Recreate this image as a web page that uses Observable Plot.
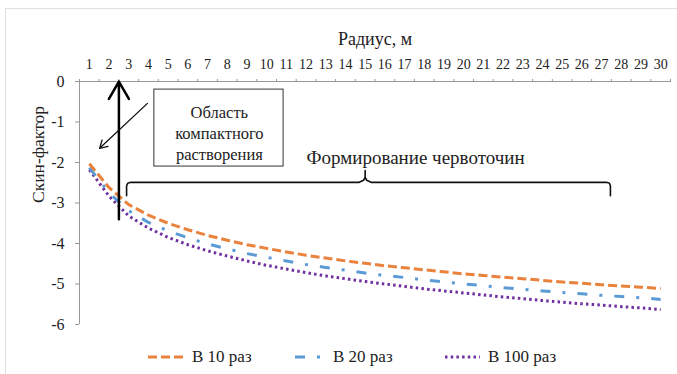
<!DOCTYPE html>
<html><head><meta charset="utf-8">
<script src="https://cdn.jsdelivr.net/npm/d3@7"></script>
<script src="https://cdn.jsdelivr.net/npm/@observablehq/plot@0.6"></script>
<style>
body{margin:0;background:#fff;font-family:'Liberation Serif','Times New Roman',serif;}
#wrap{position:relative;width:677px;height:374px;overflow:hidden;background:#fff;}
#border{position:absolute;left:5px;top:8px;width:700px;height:400px;border:1px solid #e0e0e0;}
#chart{position:absolute;left:0;top:0;}
#chart svg text{font-family:'Liberation Serif','Times New Roman',serif;}
.leg{position:absolute;top:347px;height:20px;display:flex;align-items:center;font-size:17px;color:#222;white-space:nowrap;}
.leg svg{margin-right:8px;}
</style></head><body>
<div id="wrap"><div id="border"></div><div id="chart"></div><div id="legend"></div></div>
<script>
// Categories (radius, m)
const radius = [1,2,3,4,5,6,7,8,9,10,11,12,13,14,15,16,17,18,19,20,21,22,23,24,25,26,27,28,29,30];
// Skin factor series
const s10  = [-2.03,-2.62,-3.04,-3.30,-3.50,-3.66,-3.80,-3.92,-4.03,-4.12,-4.21,-4.29,-4.36,-4.43,-4.49,-4.55,-4.60,-4.65,-4.70,-4.75,-4.79,-4.83,-4.87,-4.91,-4.95,-4.98,-5.02,-5.05,-5.08,-5.11];
const s20  = [-2.13,-2.75,-3.19,-3.48,-3.69,-3.86,-4.01,-4.13,-4.25,-4.34,-4.43,-4.52,-4.59,-4.66,-4.73,-4.79,-4.84,-4.90,-4.95,-5.00,-5.04,-5.09,-5.13,-5.17,-5.21,-5.24,-5.28,-5.31,-5.34,-5.38];
const s100 = [-2.18,-2.83,-3.32,-3.62,-3.85,-4.03,-4.18,-4.31,-4.43,-4.54,-4.63,-4.72,-4.80,-4.87,-4.94,-5.00,-5.06,-5.12,-5.17,-5.22,-5.27,-5.32,-5.36,-5.41,-5.45,-5.49,-5.52,-5.56,-5.59,-5.63];
const seriesNames = ["В 10 раз","В 20 раз","В 100 раз"];
const yTicks = [0,-1,-2,-3,-4,-5,-6];
const xTitle = "Радиус, м";
const yTitle = "Скин-фактор";
// Annotations (data coordinates)
const arrowV = [{x1:2.5,y1:-3.4,x2:2.5,y2:0}];
const arrowD = [{x1:3.95,y1:-0.54,x2:1.52,y2:-1.65}];
const boxRect = [{x1:4.3,x2:10.86,y1:-0.2,y2:-2.1}];
const boxText = [{x:7.6,y:-1.25,t:"Область\nкомпактного\nрастворения"}];
const brace = [[2.89,-2.82],[2.89,-2.58],[2.95,-2.51],[3.1,-2.49],[14.7,-2.49],[14.92,-2.44],[15,-2.36],[15,-2.2],[15,-2.36],[15.08,-2.44],[15.3,-2.49],[27.25,-2.49],[27.4,-2.51],[27.45,-2.58],[27.45,-2.82]];
const braceText = [{x:17.56,y:-1.88,t:"Формирование червоточин"}];

const colors = ["#E8823C","#5B9BD5","#7030A0"];
const dashes = ["9,4","10,12,3,12","2.5,3.2"];
const serif = "Liberation Serif, Times New Roman, serif";

const rows = (vals) => radius.map((r,i)=>({r, s: vals[i]}));
const halfTicks = d3.range(0.5, 30.6, 1);

const chart = Plot.plot({
  width: 677, height: 340,
  marginLeft: 79, marginRight: 7, marginTop: 81, marginBottom: 16,
  style: {fontFamily: serif, fontSize: "14px", color: "#222", background: "transparent"},
  x: {domain: [0.5, 30.5]},
  y: {domain: [-6, 0]},
  marks: [
    Plot.ruleY([0], {stroke: "#999"}),
    Plot.ruleX([0.5], {y1: 0, y2: -6, stroke: "#999"}),
    Plot.axisX({anchor: "top", ticks: radius, tickSize: 0, tickPadding: 13, label: null, fontSize: 14}),
    Plot.axisX({anchor: "top", ticks: halfTicks, tickSize: 3, tickFormat: () => "", label: null, stroke: "#999"}),
    Plot.axisY({ticks: yTicks, tickFormat: d => String(d), tickSize: 4, tickPadding: 11, fontSize: 16, label: null, stroke: "#999"}),
    Plot.text([yTitle], {frameAnchor: "left", dx: -41.5, rotate: -90, fontSize: 17.5, fill: "#222"}),
    Plot.text([xTitle], {frameAnchor: "top", dy: -49, fontSize: 18, fill: "#222"}),
    Plot.line(rows(s100), {x: "r", y: "s", stroke: colors[2], strokeWidth: 3, strokeDasharray: dashes[2], strokeLinecap: "butt"}),
    Plot.line(rows(s20), {x: "r", y: "s", stroke: colors[1], strokeWidth: 3, strokeDasharray: dashes[1], strokeLinecap: "butt"}),
    Plot.line(rows(s10), {x: "r", y: "s", stroke: colors[0], strokeWidth: 3, strokeDasharray: dashes[0], strokeLinecap: "butt"}),
    Plot.arrow(arrowV, {x1: "x1", y1: "y1", x2: "x2", y2: "y2", stroke: "#000", strokeWidth: 2.5, headLength: 12}),
    Plot.arrow(arrowD, {x1: "x1", y1: "y1", x2: "x2", y2: "y2", stroke: "#111", strokeWidth: 1.3, headLength: 10}),
    Plot.rect(boxRect, {x1: "x1", x2: "x2", y1: "y1", y2: "y2", fill: "#fff", stroke: "#333", strokeWidth: 1}),
    Plot.text(boxText, {x: "x", y: "y", text: "t", fontSize: 16.5, lineHeight: 1.27, fill: "#222"}),
    Plot.line(brace, {x: d => d[0], y: d => d[1], stroke: "#111", strokeWidth: 1.6}),
    Plot.text(braceText, {x: "x", y: "y", text: "t", fontSize: 19, fill: "#222"})
  ]
});
document.getElementById("chart").appendChild(chart);

// Legend
const legPos = [148, 295, 445];
const swW = [36, 30, 35];
const legend = document.getElementById("legend");
seriesNames.forEach((name, i) => {
  const d = document.createElement("div");
  d.className = "leg";
  d.style.left = legPos[i] + "px";
  d.innerHTML = `<svg width="${swW[i]}" height="10"><line x1="0" y1="5" x2="${swW[i]}" y2="5" stroke="${colors[i]}" stroke-width="3" stroke-dasharray="${dashes[i]}"/></svg><span>${name}</span>`;
  legend.appendChild(d);
});
</script>
</body></html>
